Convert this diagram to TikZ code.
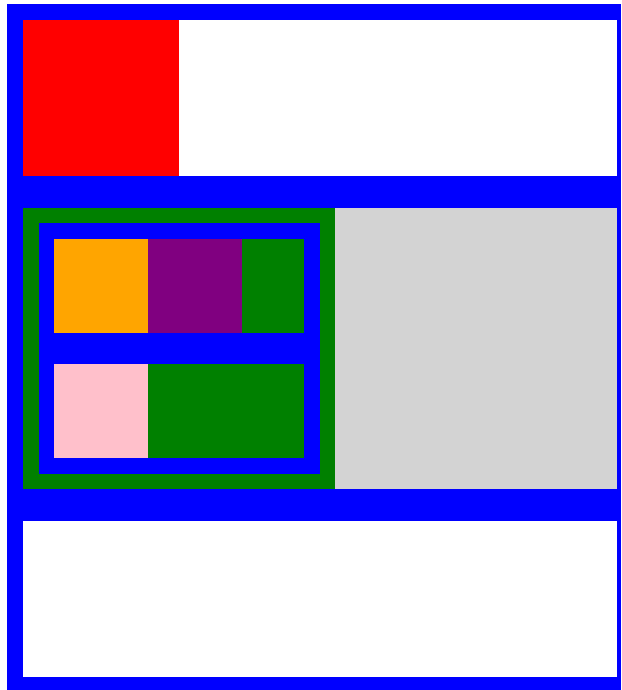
\documentclass[tikz,border=0pt]{standalone}
\definecolor{cblue}{RGB}{0,0,255}
\definecolor{cred}{RGB}{255,0,0}
\definecolor{cgreen}{RGB}{0,128,0}
\definecolor{corange}{RGB}{255,165,0}
\definecolor{cpurple}{RGB}{128,0,128}
\definecolor{cpink}{RGB}{255,192,203}
\definecolor{cgray}{RGB}{211,211,211}
\begin{document}
\begin{tikzpicture}[x=1pt,y=-1pt,box/.style={fill=#1,draw=none}]
\useasboundingbox (0,0) rectangle (621,690);
\fill[white] (0,0) rectangle (621,690);
\fill[box=cblue] (7,4) rectangle (621,690);
% top panel
\fill[box=white] (23,20) rectangle (617,176);
\fill[box=cred] (23,20) rectangle (179,176);
% middle panel
\fill[box=cgreen] (23,208) rectangle (335,489);
\fill[box=cgray] (335,208) rectangle (617,489);
\fill[box=cblue] (39,223) rectangle (320,474);
\fill[box=corange] (54,239) rectangle (148,333);
\fill[box=cpurple] (148,239) rectangle (242,333);
\fill[box=cgreen] (242,239) rectangle (304,333);
\fill[box=cpink] (54,364) rectangle (148,458);
\fill[box=cgreen] (148,364) rectangle (304,458);
% bottom panel
\fill[box=white] (23,521) rectangle (617,677);
\end{tikzpicture}
\end{document}
